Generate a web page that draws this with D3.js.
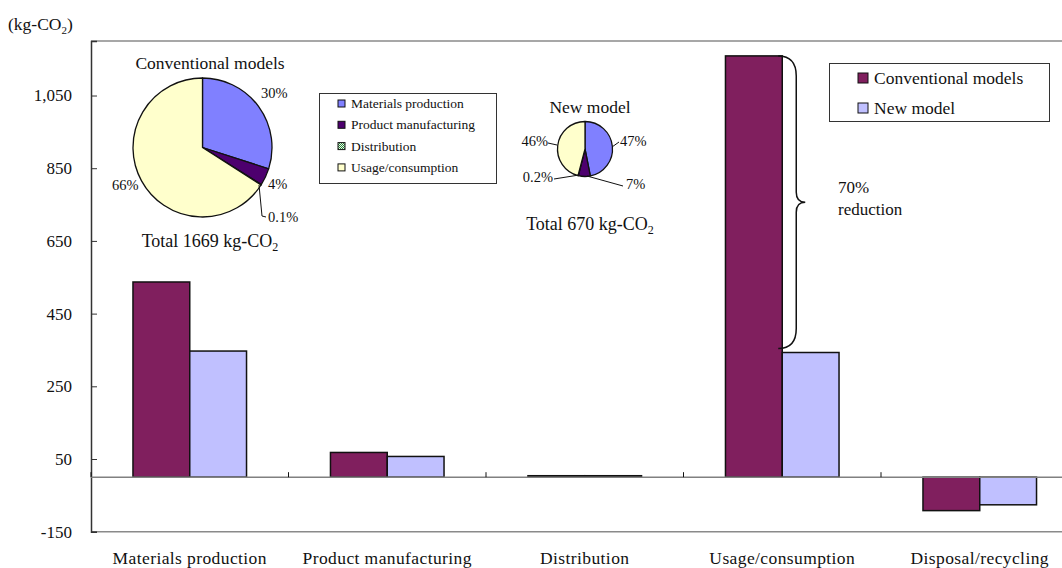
<!DOCTYPE html>
<html>
<head>
<meta charset="utf-8">
<script src="https://cdn.jsdelivr.net/npm/d3@7/dist/d3.min.js"></script>
<style>
  html, body { margin: 0; padding: 0; background: #fff; }
  svg { display: block; }
  svg text { font-family: "Liberation Serif", "Times New Roman", serif; fill: #111; }
</style>
</head>
<body>
<svg id="chart" width="1062" height="568"></svg>
<script>
// Life-cycle CO2 emissions by stage (kg-CO2)
const stages = ["Materials production", "Product manufacturing", "Distribution", "Usage/consumption", "Disposal/recycling"];
const seriesNames = ["Conventional models", "New model"];
const conventional = [537, 68, 4, 1159, -92];
const newModel = [347, 57, 4, 343, -76];
const yTicks = [-150, 50, 250, 450, 650, 850, 1050];

// Share of each stage in the two totals (pie insets)
const pieStages = ["Materials production", "Product manufacturing", "Distribution", "Usage/consumption"];
const conventionalShare = [30, 4, 0.1, 66];
const newShare = [47, 7, 0.2, 46];
const conventionalTotal = 1669;
const newTotal = 670;
const reductionLabel = "70%";

const svg = d3.select("#chart");
const plot = { left: 91, right: 1078.5, top: 41, bottom: 531.7 };

const x0 = d3.scaleBand().domain(stages).range([plot.left, plot.right])
  .paddingInner(0.425).paddingOuter(0.2125);
const x1 = d3.scaleBand().domain(seriesNames).range([0, x0.bandwidth()]);
const y = d3.scaleLinear().domain([-150, 1200]).range([plot.bottom, plot.top]);
const barColor = d3.scaleOrdinal().domain(seriesNames).range(["#801f5e", "#c0c0ff"]);

const defs = svg.append("defs");
const pat = defs.append("pattern").attr("id", "check").attr("width", 2).attr("height", 2)
  .attr("patternUnits", "userSpaceOnUse");
pat.append("rect").attr("width", 2).attr("height", 2).attr("fill", "#e8ffe8");
pat.append("rect").attr("width", 1).attr("height", 1).attr("fill", "#2f7f3f");
pat.append("rect").attr("x", 1).attr("y", 1).attr("width", 1).attr("height", 1).attr("fill", "#2f7f3f");
const pieColor = d3.scaleOrdinal().domain(pieStages).range(["#8080ff", "#4d006e", "url(#check)", "#ffffcc"]);

// Frame lines
svg.append("line").attr("x1", plot.left).attr("x2", 1062).attr("y1", plot.top).attr("y2", plot.top)
  .attr("stroke", "#8a8a8a").attr("stroke-width", 1.5);
svg.append("line").attr("x1", plot.left).attr("x2", 1062).attr("y1", plot.bottom).attr("y2", plot.bottom)
  .attr("stroke", "#8a8a8a").attr("stroke-width", 1.5);

// Y axis
const fmt = d3.format(",");
const yAxis = d3.axisRight(y).tickValues(yTicks).tickFormat(d => fmt(d).replace("\u2212", "-"))
  .tickSize(6).tickPadding(0);
const gy = svg.append("g").attr("transform", `translate(${plot.left},0)`).call(yAxis)
  .attr("font-family", null).attr("font-size", null);
gy.select(".domain").attr("stroke", "#333").attr("stroke-width", 1.5);
gy.selectAll(".tick line").attr("stroke", "#333");
gy.selectAll(".tick text").attr("x", -19).attr("text-anchor", "end").attr("font-size", 17);

svg.append("text").attr("x", 8).attr("y", 30).attr("font-size", 17.5)
  .call(t => { t.append("tspan").text("(kg-CO"); t.append("tspan").attr("font-size", 11).attr("dy", 4).text("2");
               t.append("tspan").attr("dy", -4).text(")"); });

// Bars
const rows = stages.map((s, i) => ({ stage: s, values: [conventional[i], newModel[i]] }));
const groups = svg.append("g").selectAll("g").data(rows).join("g")
  .attr("transform", d => `translate(${x0(d.stage)},0)`);
groups.selectAll("rect").data(d => d.values.map((v, j) => ({ key: seriesNames[j], v })))
  .join("rect")
  .attr("x", d => x1(d.key)).attr("width", x1.bandwidth())
  .attr("y", d => y(Math.max(0, d.v))).attr("height", d => Math.abs(y(d.v) - y(0)))
  .attr("fill", d => barColor(d.key)).attr("stroke", "#111").attr("stroke-width", 1.5);

// Zero line and category boundary ticks
svg.append("line").attr("x1", plot.left).attr("x2", 1062).attr("y1", y(0)).attr("y2", y(0))
  .attr("stroke", "#808080").attr("stroke-width", 1.5);
const step = x0.step();
svg.append("g").selectAll("line").data(d3.range(0, stages.length + 1)).join("line")
  .attr("x1", i => plot.left + i * step).attr("x2", i => plot.left + i * step)
  .attr("y1", y(0)).attr("y2", y(0) - 5).attr("stroke", "#111");

// Category labels
svg.append("g").selectAll("text").data(stages).join("text")
  .attr("x", d => x0(d) + x0.bandwidth() / 2).attr("y", 564).attr("text-anchor", "middle")
  .attr("font-size", 17.5).attr("letter-spacing", 0.4).text(d => d);

// Legend for bars
const lg = svg.append("g");
lg.append("rect").attr("x", 829.5).attr("y", 63.5).attr("width", 220).attr("height", 58)
  .attr("fill", "#fff").attr("stroke", "#333");
seriesNames.forEach((n, i) => {
  lg.append("rect").attr("x", 858).attr("y", 73 + i * 30).attr("width", 10).attr("height", 10)
    .attr("fill", barColor(n)).attr("stroke", "#111");
  lg.append("text").attr("x", 874).attr("y", 84 + i * 30).attr("font-size", 17.5).text(n);
});

// Brace showing reduction in usage stage
const usageIdx = 3;
const bx0 = x0(stages[usageIdx]) + x1(seriesNames[0]) + x1.bandwidth() - 4;
const bx1 = bx0 + 18, bx2 = bx0 + 27;
const by0 = y(conventional[usageIdx]), by1 = y(newModel[usageIdx]) - 4, bym = (by0 + by1) / 2;
svg.append("path").attr("fill", "none").attr("stroke", "#111").attr("stroke-width", 1.5)
  .attr("d", `M${bx0},${by0} Q${bx1},${by0} ${bx1},${by0 + 20} L${bx1},${bym - 10} Q${bx1},${bym} ${bx2},${bym}
              Q${bx1},${bym} ${bx1},${bym + 10} L${bx1},${by1 - 20} Q${bx1},${by1} ${bx0},${by1}`);
svg.append("text").attr("x", 838).attr("y", 193).attr("font-size", 17).text(reductionLabel);
svg.append("text").attr("x", 838).attr("y", 215).attr("font-size", 17).text("reduction");

// Pie insets
const pie = d3.pie().sort(null).value(d => d.v);
function drawPie(cx, cy, r, shares) {
  const data = pie(shares.map((v, i) => ({ stage: pieStages[i], v })));
  const arc = d3.arc().innerRadius(0).outerRadius(r);
  svg.append("g").attr("transform", `translate(${cx},${cy})`)
    .selectAll("path").data(data).join("path")
    .attr("d", arc).attr("fill", d => pieColor(d.data.stage))
    .attr("stroke", "#111").attr("stroke-width", 1.3).attr("stroke-linejoin", "round");
}
function label(x, yy, txt, size, anchor) {
  return svg.append("text").attr("x", x).attr("y", yy).attr("font-size", size)
    .attr("text-anchor", anchor || "start").text(txt);
}
function leader(pts) {
  svg.append("polyline").attr("points", pts.map(p => p.join(",")).join(" "))
    .attr("fill", "none").attr("stroke", "#111").attr("stroke-width", 1);
}
function totalLabel(cx, yy, total) {
  svg.append("text").attr("x", cx).attr("y", yy).attr("font-size", 18).attr("text-anchor", "middle")
    .call(t => { t.append("tspan").text(`Total ${total} kg-CO`);
                 t.append("tspan").attr("font-size", 12).attr("dy", 4).text("2"); });
}

// Conventional models pie
drawPie(202.5, 147.5, 69.5, conventionalShare);
label(210, 69, "Conventional models", 17.5, "middle");
label(261, 98, conventionalShare[0] + "%", 14.5);
label(268, 189, conventionalShare[1] + "%", 14.5);
leader([[259, 185], [262, 216], [266, 217]]);
label(268, 222, conventionalShare[2] + "%", 14.5);
label(112, 190, conventionalShare[3] + "%", 14.5);
totalLabel(210, 247, conventionalTotal);

// New model pie
drawPie(585, 149, 27.5, newShare);
label(590, 113, "New model", 17.5, "middle");
leader([[612, 147], [619, 142]]);
label(620, 146, newShare[0] + "%", 14.5);
leader([[587, 176], [623, 186]]);
label(626, 189, newShare[1] + "%", 14.5);
leader([[554, 179], [579, 175]]);
label(553, 182, newShare[2] + "%", 14.5, "end");
leader([[548, 143], [557, 145]]);
label(548, 146, newShare[3] + "%", 14.5, "end");
totalLabel(590, 230, newTotal);

// Legend for pies
const pl = svg.append("g");
pl.append("rect").attr("x", 319.5).attr("y", 93.5).attr("width", 177).attr("height", 90)
  .attr("fill", "#fff").attr("stroke", "#333");
pieStages.forEach((s, i) => {
  pl.append("rect").attr("x", 338).attr("y", 100 + i * 21.3).attr("width", 7).attr("height", 7)
    .attr("fill", pieColor(s)).attr("stroke", "#111");
  pl.append("text").attr("x", 351).attr("y", 108 + i * 21.3).attr("font-size", 13.5).text(s);
});
</script>
</body>
</html>
